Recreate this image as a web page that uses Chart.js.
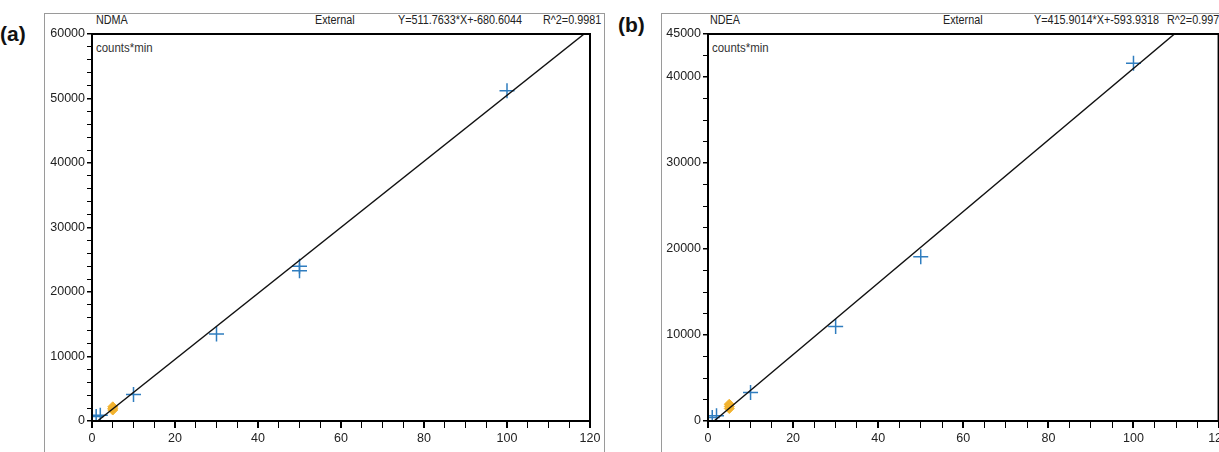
<!DOCTYPE html>
<html>
<head>
<meta charset="utf-8">
<script src="https://cdn.jsdelivr.net/npm/chart.js@4"></script>
<style>
  html, body { margin: 0; padding: 0; background: #fff; overflow: hidden; width: 1219px; height: 452px; }
  .pane { position: absolute; top: 0; overflow: hidden; }
  .frame { position: absolute; top: 13px; border: 1.5px solid #9a9a9a; }
  .txt { position: absolute; font-family: 'Liberation Sans', Arial, sans-serif; font-size: 13.5px; color: #222; white-space: pre; line-height: 15px; transform: scaleX(0.8); transform-origin: left top; }
  .tag { position: absolute; font-family: 'Liberation Sans', Arial, sans-serif; font-weight: bold; font-size: 21px; color: #111; }
  .unit { position: absolute; font-family: 'Liberation Sans', Arial, sans-serif; font-size: 13px; color: #333; transform: scaleX(0.88); transform-origin: left top; }
</style>
</head>
<body>
<div class="tag" style="left:0px;top:22px;">(a)</div>
<div class="tag" style="left:618px;top:13px;">(b)</div>
<div class="frame" style="left:44px;width:559px;height:460px;"></div>
<div class="frame" style="left:661px;width:600px;height:460px;"></div>

<div class="txt" style="left:96px;top:12px;">NDMA</div>
<div class="txt" style="left:315px;top:12px;">External</div>
<div class="txt" style="left:398px;top:12px;">Y=511.7633*X+-680.6044</div>
<div class="txt" style="left:543px;top:12px;">R^2=0.9981</div>
<div class="unit" style="left:96px;top:40px;">counts*min</div>

<div class="txt" style="left:710px;top:12px;">NDEA</div>
<div class="txt" style="left:943px;top:12px;">External</div>
<div class="txt" style="left:1034px;top:12px;">Y=415.9014*X+-593.9318</div>
<div class="txt" style="left:1167px;top:12px;">R^2=0.9979</div>
<div class="unit" style="left:712px;top:40px;">counts*min</div>

<div class="pane" style="left:0px;width:610px;height:452px;"><canvas id="chartA" width="610" height="452"></canvas></div>
<div class="pane" style="left:610px;width:609px;height:452px;"><canvas id="chartB" width="622" height="452"></canvas></div>

<script>
// NDMA calibration
var ndmaX = [1, 2, 10, 30, 50, 50, 100];
var ndmaY = [700, 900, 4100, 13500, 24000, 23300, 51200];
var ndmaQcX = [5, 5, 5];
var ndmaQcY = [1700, 1950, 2200];
var ndmaFit = { slope: 511.7633, intercept: -680.6044 };

// NDEA calibration
var ndeaX = [1, 2, 10, 30, 50, 100];
var ndeaY = [400, 600, 3300, 11000, 19100, 41600];
var ndeaQcX = [5, 5, 5];
var ndeaQcY = [1450, 1700, 1950];
var ndeaFit = { slope: 415.9014, intercept: -593.9318 };

var xMax = 120;
var xTickStep = 5;
var ndmaYMax = 60000, ndmaYStep = 2000;
var ndeaYMax = 45000, ndeaYStep = 2500;

var tickFont = { family: "'Liberation Sans', Arial, sans-serif", size: 12.5 };

var framePlugin = {
    id: 'frame',
    afterDatasetsDraw: function(chart) {
        var a = chart.chartArea, ctx = chart.ctx;
        ctx.save();
        ctx.strokeStyle = '#000';
        ctx.lineWidth = 2;
        ctx.strokeRect(a.left, a.top, a.right - a.left, a.bottom - a.top);
        ctx.restore();
    }
};

function makeChart(id, xs, ys, qx, qy, fit, yMax, yStep, pad, yWidth) {
    var pts = xs.map(function(x, i) { return { x: x, y: ys[i] }; });
    var qc = qx.map(function(x, i) { return { x: x, y: qy[i] }; });
    var x0 = -fit.intercept / fit.slope;
    var line = [x0, xMax].map(function(x) { return { x: x, y: fit.slope * x + fit.intercept }; });
    var ctx = document.getElementById(id).getContext('2d');
    return new Chart(ctx, {
        type: 'scatter',
        data: {
            datasets: [
                {
                    type: 'line',
                    data: line,
                    borderColor: '#111',
                    borderWidth: 1.4,
                    pointRadius: 0,
                    fill: false,
                    clip: 0
                },
                {
                    data: qc,
                    pointStyle: 'rectRot',
                    pointRadius: 5,
                    backgroundColor: '#f2b22e',
                    borderColor: '#f2b22e',
                    borderWidth: 1
                },
                {
                    data: pts,
                    pointStyle: 'cross',
                    pointRadius: 7.5,
                    borderColor: '#2f7dbf',
                    borderWidth: 1.5
                }
            ]
        },
        options: {
            responsive: false,
            animation: false,
            layout: { padding: pad },
            plugins: { legend: { display: false }, tooltip: { enabled: false } },
            scales: {
                x: {
                    type: 'linear',
                    min: 0,
                    max: xMax,
                    afterFit: function(s) { s.height = 31; },
                    ticks: {
                        stepSize: xTickStep,
                        autoSkip: false,
                        maxRotation: 0,
                        padding: 3,
                        color: '#222',
                        font: tickFont,
                        callback: function(v) { return v % 20 === 0 ? v : ''; }
                    },
                    grid: {
                        drawOnChartArea: false,
                        tickLength: 7,
                        color: '#000',
                        lineWidth: function(c) { return c.tick && c.tick.value % 20 === 0 ? 2 : 1; }
                    },
                    border: { display: true, color: '#000', width: 2 }
                },
                y: {
                    type: 'linear',
                    min: 0,
                    max: yMax,
                    afterFit: function(s) { s.width = yWidth; },
                    ticks: {
                        stepSize: yStep,
                        autoSkip: false,
                        padding: 2,
                        color: '#222',
                        font: tickFont,
                        callback: function(v) { return (v % 10000 === 0 || v === yMax) ? v : ''; }
                    },
                    grid: {
                        drawOnChartArea: false,
                        tickLength: 5,
                        color: '#000',
                        lineWidth: function(c) { return c.tick && (c.tick.value % 10000 === 0 || c.tick.value === yMax) ? 1.5 : 1; }
                    },
                    border: { display: true, color: '#000', width: 1 }
                }
            }
        },
        plugins: [framePlugin]
    });
}

makeChart('chartA', ndmaX, ndmaY, ndmaQcX, ndmaQcY, ndmaFit, ndmaYMax, ndmaYStep,
    { left: 42, right: 20, top: 34, bottom: 0 }, 50);
makeChart('chartB', ndeaX, ndeaY, ndeaQcX, ndeaQcY, ndeaFit, ndeaYMax, ndeaYStep,
    { left: 50, right: 10, top: 34, bottom: 0 }, 48);
</script>
</body>
</html>
